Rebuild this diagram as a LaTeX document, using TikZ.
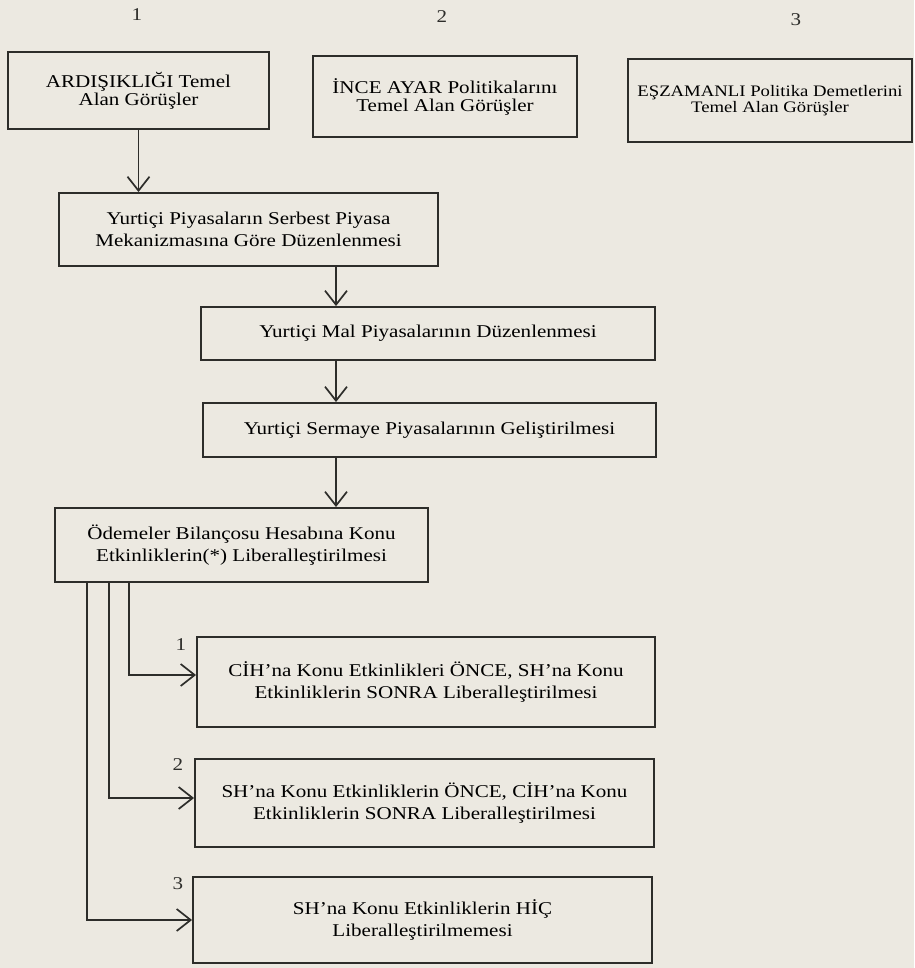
\documentclass[tikz,border=0pt]{standalone}
\usepackage{fontspec}
\setmainfont{Liberation Serif}[FakeStretch=1.17]
\usepackage{tikz}
\usetikzlibrary{positioning,calc,arrows.meta}
\definecolor{InkGray}{RGB}{45,45,42}
\definecolor{PaperBeige}{RGB}{236,233,225}
\tikzset{
    kutu/.style={rectangle, draw=InkGray, line width=1.9pt, align=center, inner sep=2pt, font=\fontsize{18}{22}\selectfont},
    numara/.style={inner sep=0pt, text=InkGray, font=\fontsize{18}{20}\selectfont}
}

\begin{document}
\begin{tikzpicture}[
        x=1pt, y=-1pt,
        % --- OK STILI ---
        ok/.style={
            draw=InkGray,
            line width=1.7pt,
            -{Straight Barb[length=14pt, width=22pt]}
        }
    ]
        % Kagit zemin
        \fill[PaperBeige] (0,0) rectangle (914,968);
        \useasboundingbox (0,0) rectangle (914,968);

        % --- UST NUMARALAR ---
        \node[numara] (u1) at (137,15) {1};
        \node[numara] (u2) at (442,17) {2};
        \node[numara] (u3) at (796,20) {3};

        % --- UST KUTULAR ---
        \node[kutu, minimum width=261pt, minimum height=77pt, font=\fontsize{18}{18}\selectfont] (ard) at (138.5,90.5)
            {ARDIŞIKLIĞI Temel\\Alan Görüşler};
        \node[kutu, minimum width=264pt, minimum height=81pt, font=\fontsize{18}{18}\selectfont] (ince) at (445,96.5)
            {İNCE AYAR Politikalarını\\Temel Alan Görüşler};
        \node[kutu, minimum width=284pt, minimum height=83pt, font=\fontsize{16}{15.5}\selectfont] (esz) at (770,100.5)
            {EŞZAMANLI Politika Demetlerini\\Temel Alan Görüşler};

        % --- ANA ZINCIR ---
        \node[kutu, minimum width=379pt, minimum height=73pt] (serbest) at (248.5,229.5)
            {Yurtiçi Piyasaların Serbest Piyasa\\Mekanizmasına Göre Düzenlenmesi};
        \node[kutu, minimum width=454pt, minimum height=53pt] (mal) at (428,333.5)
            {Yurtiçi Mal Piyasalarının Düzenlenmesi};
        \node[kutu, minimum width=453pt, minimum height=54pt] (sermaye) at (429.5,430)
            {Yurtiçi Sermaye Piyasalarının Geliştirilmesi};
        \node[kutu, minimum width=373pt, minimum height=74pt] (odeme) at (241.5,545)
            {Ödemeler Bilançosu Hesabına Konu\\Etkinliklerin(*) Liberalleştirilmesi};

        % --- SECENEKLER ---
        \node[kutu, minimum width=458pt, minimum height=90pt] (sec1) at (426,682)
            {CİH'na Konu Etkinlikleri ÖNCE, SH'na Konu\\Etkinliklerin SONRA Liberalleştirilmesi};
        \node[kutu, minimum width=459pt, minimum height=88pt] (sec2) at (424.5,803)
            {SH'na Konu Etkinliklerin ÖNCE, CİH'na Konu\\Etkinliklerin SONRA Liberalleştirilmesi};
        \node[kutu, minimum width=459pt, minimum height=86pt] (sec3) at (422.5,920)
            {SH'na Konu Etkinliklerin HİÇ\\Liberalleştirilmemesi};

        \node[numara] (s1) at (181,645) {1};
        \node[numara] (s2) at (178,765) {2};
        \node[numara] (s3) at (178,884) {3};

        % --- OKLAR ---
        \coordinate (hat) at (336,0);
        \draw[ok] (ard.south) -- (ard.south |- serbest.north);
        \draw[ok] (hat |- serbest.south) -- (hat |- mal.north);
        \draw[ok] (hat |- mal.south) -- (hat |- sermaye.north);
        \draw[ok] (hat |- sermaye.south) -- (hat |- odeme.north);

        % Odemeler kutusundan uc secenege
        \draw[ok] ([xshift=75pt]odeme.south west) |- ([yshift=7pt]sec1.west);
        \draw[ok] ([xshift=55pt]odeme.south west) |- ([yshift=5pt]sec2.west);
        \draw[ok] ([xshift=33pt]odeme.south west) |- (sec3.west);

    \end{tikzpicture}
\end{document}
